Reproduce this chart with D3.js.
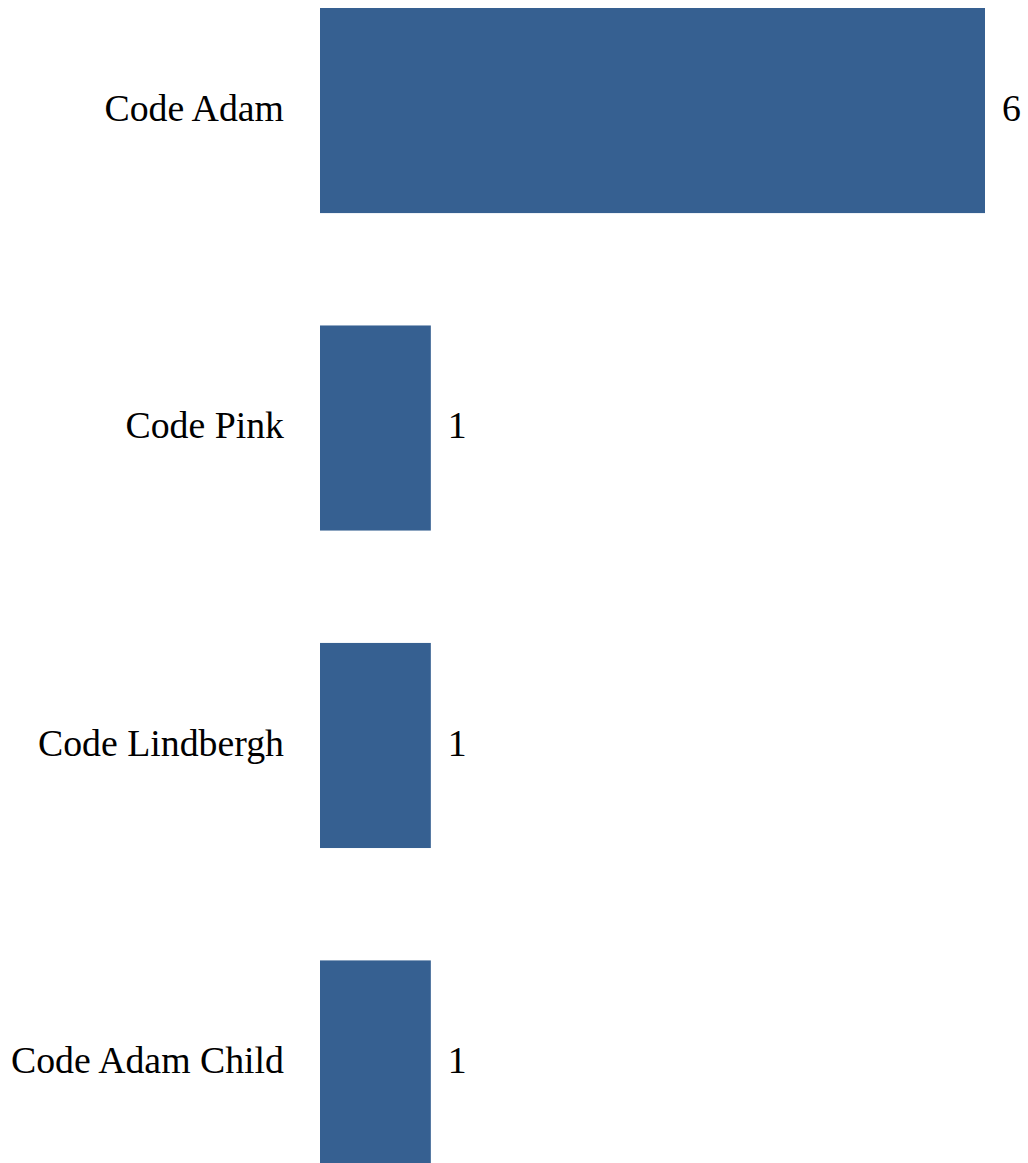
<!DOCTYPE html>
<html><head><meta charset="utf-8">
<script src="https://cdn.jsdelivr.net/npm/d3@7"></script>
<style>html,body{margin:0;padding:0;background:#fff;overflow:hidden}
text{font-family:"Liberation Serif","Tinos","Times New Roman","DejaVu Serif",serif;}</style>
</head><body>
<script>
const categories = ["Code Adam", "Code Pink", "Code Lindbergh", "Code Adam Child"];
const values = [6, 1, 1, 1];

const W = 1028, H = 1163;
const svg = d3.select("body").append("svg").attr("width", W).attr("height", H);

const x = d3.scaleLinear().domain([0, 6]).range([320, 985]);
const y = d3.scaleBand().domain(categories).range([8, 1165.5]).paddingInner(0.354).paddingOuter(0);

svg.selectAll("rect.bar").data(categories).join("rect")
  .attr("class", "bar")
  .attr("x", x(0))
  .attr("y", d => y(d))
  .attr("width", (d, i) => x(values[i]) - x(0))
  .attr("height", y.bandwidth())
  .attr("fill", "#366091");

svg.selectAll("text.cat").data(categories).join("text")
  .attr("class", "cat")
  .attr("x", 284)
  .attr("y", d => y(d) + y.bandwidth() / 2)
  .attr("dy", "0.27em")
  .attr("text-anchor", "end")
  .attr("font-size", 37.8)
  .attr("fill", "#000")
  .text(d => d);

svg.selectAll("text.val").data(categories).join("text")
  .attr("class", "val")
  .attr("x", (d, i) => x(values[i]) + 17)
  .attr("y", d => y(d) + y.bandwidth() / 2)
  .attr("dy", "0.27em")
  .attr("font-size", 37.8)
  .attr("fill", "#000")
  .text((d, i) => values[i]);
</script>
</body></html>
